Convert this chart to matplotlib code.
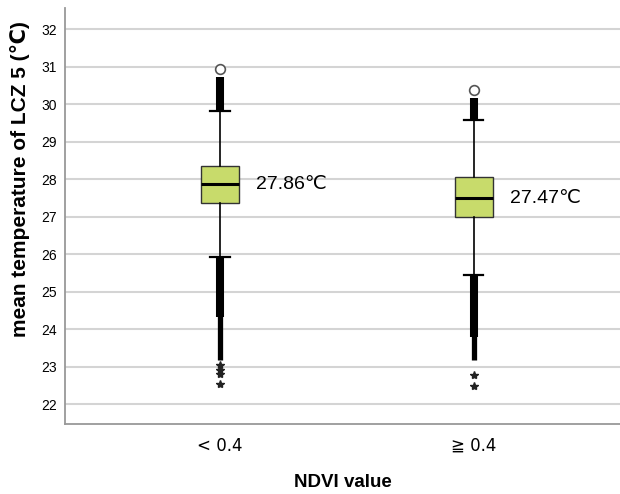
import matplotlib
matplotlib.use('Agg')
import matplotlib.pyplot as plt

# Dados
grupos = ['< 0.4', '≧ 0.4']
medianas = [27.86, 27.49]
q1 = [27.36, 27.00]
q3 = [28.35, 28.05]
bigode_inf = [25.93, 25.44]
bigode_sup = [29.82, 29.58]
rotulos = ['27.86℃', '27.47℃']

# faixas densas de outliers (inicio, fim)
faixa_sup = [(29.82, 30.74), (29.58, 30.16)]
faixa_inf_larga = [(24.33, 25.93), (23.79, 25.44)]
faixa_inf_estreita = [(23.17, 24.33), (23.17, 23.79)]
outliers_circulo = [[30.94], [30.38]]
outliers_estrela = [[23.04, 22.90, 22.80, 22.53], [22.78, 22.48]]

plt.rcParams['font.family'] = ['Liberation Sans', 'DejaVu Sans']

fig = plt.figure(figsize=(6.2, 4.94), dpi=100)
ax = fig.add_axes([0.105, 0.1417, 0.895, 0.8423])

posicoes = [1, 2]
stats = []
for i in range(len(grupos)):
    stats.append(dict(med=medianas[i], q1=q1[i], q3=q3[i],
                      whislo=bigode_inf[i], whishi=bigode_sup[i], fliers=[]))

ax.bxp(stats, positions=posicoes, widths=0.152, capwidths=0.075,
       patch_artist=True, showfliers=False,
       boxprops=dict(facecolor='#c8db6b', edgecolor='#333333', linewidth=1.0),
       medianprops=dict(color='black', linewidth=2.2),
       whiskerprops=dict(color='black', linewidth=1.2),
       capprops=dict(color='black', linewidth=1.6), zorder=3)

# Outliers densos
for i, x in enumerate(posicoes):
    ax.vlines(x, *faixa_sup[i], color='black', linewidth=5.8, zorder=4)
    ax.vlines(x, *faixa_inf_larga[i], color='black', linewidth=5.8, zorder=4)
    # parte estreita sobreposta à larga para não deixar fresta
    ax.vlines(x, faixa_inf_estreita[i][0], faixa_inf_larga[i][1],
              color='black', linewidth=3.8, zorder=4)
    ax.plot([x] * len(outliers_circulo[i]), outliers_circulo[i], 'o',
            markerfacecolor='white', markeredgecolor='#555555', markersize=7,
            markeredgewidth=1.2, zorder=5)
    ax.plot([x] * len(outliers_estrela[i]), outliers_estrela[i], '*',
            color='#222222', markersize=6, zorder=5)

# Rótulos das medianas
for i, x in enumerate(posicoes):
    ax.text(x + 0.14, medianas[i], rotulos[i], fontsize=14, va='center', ha='left',
            family=['Liberation Sans', 'DejaVu Sans'])

ax.set_xlim(0.39, 2.575)
ax.set_ylim(21.47, 32.57)
ax.set_yticks(range(22, 33))
ax.set_xticks(posicoes)
ax.set_xticklabels(grupos, family=['DejaVu Sans'], fontsize=12)
ax.tick_params(axis='y', length=0, pad=6, labelsize=10)
ax.tick_params(axis='x', length=0, pad=9)
ax.yaxis.grid(True, color='#d4d4d4', linewidth=1.5)
ax.set_axisbelow(True)

for lado in ['top', 'right']:
    ax.spines[lado].set_visible(False)
for lado in ['left', 'bottom']:
    ax.spines[lado].set_color('#999999')
    ax.spines[lado].set_linewidth(1.3)

ax.set_xlabel('NDVI value', fontsize=13.5, fontweight='bold', labelpad=14)
ax.set_ylabel('mean temperature of LCZ 5 (℃)', fontsize=15, fontweight='bold')
ax.yaxis.set_label_coords(-0.063, 0.589)

plt.savefig('out.png', dpi=100)
